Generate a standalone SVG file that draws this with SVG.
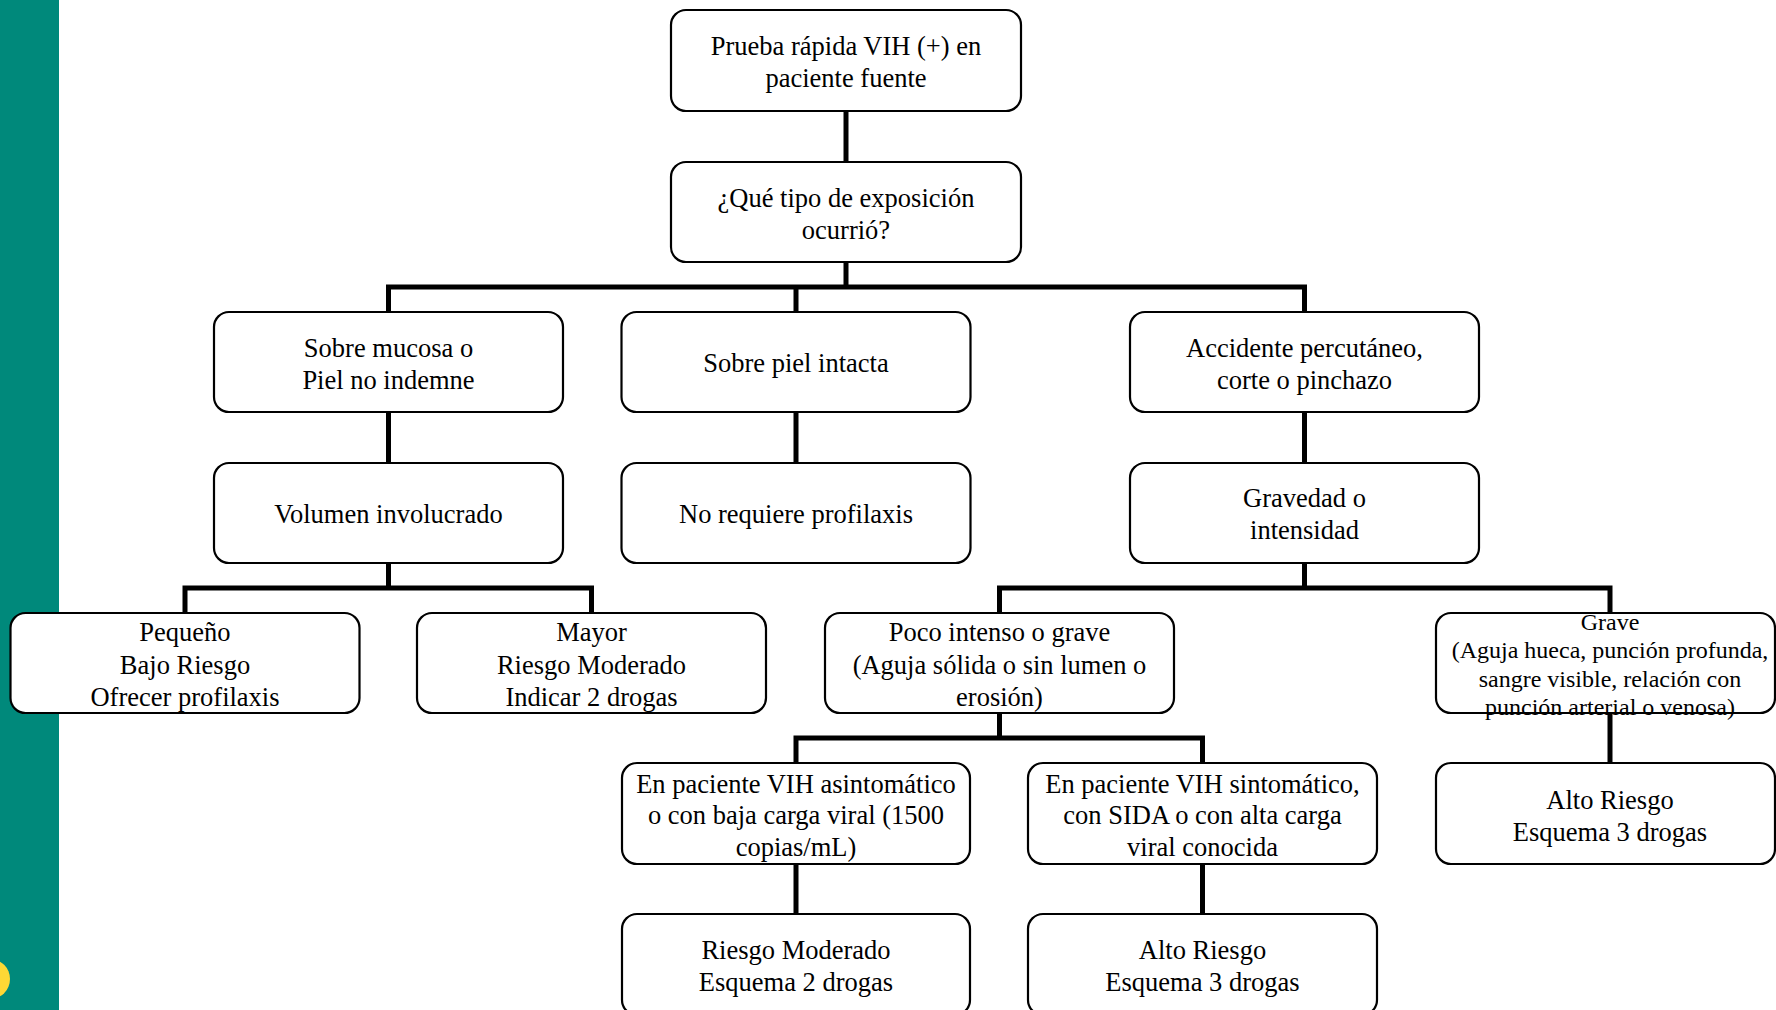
<svg xmlns="http://www.w3.org/2000/svg" width="1776" height="1010" viewBox="0 0 1776 1010">
<style>
.box{fill:#fff;stroke:#000;stroke-width:2.2}
.t{font-family:"Liberation Serif","Times New Roman",serif;font-size:26.5px;fill:#000;text-anchor:middle}
.s{font-family:"Liberation Serif","Times New Roman",serif;font-size:24px;fill:#000;text-anchor:middle}
.c{fill:none;stroke:#000;stroke-width:5;stroke-linecap:butt;stroke-linejoin:miter}
</style>
<rect x="0" y="0" width="1776" height="1010" fill="#fff"/>
<rect x="0" y="0" width="59" height="1010" fill="#00897B"/>
<circle cx="-10" cy="979" r="20" fill="#FDD835"/>
<g id="connectors">
<path class="c" d="M846 111V162"/>
<path class="c" d="M846 262V287M388.5 312V287H1304.5V312M796 287V312"/>
<path class="c" d="M388.5 412V463M796 412V463M1304.5 412V463"/>
<path class="c" d="M388.5 563V588M185 613V588H591.5V613"/>
<path class="c" d="M1304.5 563V588M999.5 613V588H1610V613"/>
<path class="c" d="M999.5 713V738M796 763V738H1202.5V763"/>
<path class="c" d="M1610 713V763"/>
<path class="c" d="M796 864V914M1202.5 864V914"/>
</g>
<g id="n1"><rect class="box" x="671" y="10" width="350" height="101" rx="15"/><text class="t" x="846" y="55">Prueba rápida VIH (+) en</text><text class="t" x="846" y="87">paciente fuente</text></g>
<g id="n2"><rect class="box" x="671" y="162" width="350" height="100" rx="15"/><text class="t" x="846" y="207">¿Qué tipo de exposición</text><text class="t" x="846" y="239">ocurrió?</text></g>
<g id="n3"><rect class="box" x="214" y="312" width="349" height="100" rx="15"/><text class="t" x="388.5" y="357">Sobre mucosa o</text><text class="t" x="388.5" y="389">Piel no indemne</text></g>
<g id="n4"><rect class="box" x="621.5" y="312" width="349" height="100" rx="15"/><text class="t" x="796" y="372">Sobre piel intacta</text></g>
<g id="n5"><rect class="box" x="1130" y="312" width="349" height="100" rx="15"/><text class="t" x="1304.5" y="357">Accidente percutáneo,</text><text class="t" x="1304.5" y="389">corte o pinchazo</text></g>
<g id="n6"><rect class="box" x="214" y="463" width="349" height="100" rx="15"/><text class="t" x="388.5" y="523">Volumen involucrado</text></g>
<g id="n7"><rect class="box" x="621.5" y="463" width="349" height="100" rx="15"/><text class="t" x="796" y="523">No requiere profilaxis</text></g>
<g id="n8"><rect class="box" x="1130" y="463" width="349" height="100" rx="15"/><text class="t" x="1304.5" y="507">Gravedad o</text><text class="t" x="1304.5" y="539">intensidad</text></g>
<g id="n9"><rect class="box" x="10.5" y="613" width="349" height="100" rx="15"/><text class="t" x="185" y="641">Pequeño</text><text class="t" x="185" y="674">Bajo Riesgo</text><text class="t" x="185" y="706">Ofrecer profilaxis</text></g>
<g id="n10"><rect class="box" x="417" y="613" width="349" height="100" rx="15"/><text class="t" x="591.5" y="641">Mayor</text><text class="t" x="591.5" y="674">Riesgo Moderado</text><text class="t" x="591.5" y="706">Indicar 2 drogas</text></g>
<g id="n11"><rect class="box" x="825" y="613" width="349" height="100" rx="15"/><text class="t" x="999.5" y="641">Poco intenso o grave</text><text class="t" x="999.5" y="674">(Aguja sólida o sin lumen o</text><text class="t" x="999.5" y="706">erosión)</text></g>
<g id="n12"><rect class="box" x="1436" y="613" width="339" height="100" rx="15"/><text class="s" x="1610" y="630">Grave</text><text class="s" x="1610" y="658">(Aguja hueca, punción profunda,</text><text class="s" x="1610" y="687">sangre visible, relación con</text><text class="s" x="1610" y="715">punción arterial o venosa)</text></g>
<g id="n13"><rect class="box" x="622" y="763" width="348" height="101" rx="15"/><text class="t" x="796" y="793">En paciente VIH asintomático</text><text class="t" x="796" y="824">o con baja carga viral (1500</text><text class="t" x="796" y="856">copias/mL)</text></g>
<g id="n14"><rect class="box" x="1028" y="763" width="349" height="101" rx="15"/><text class="t" x="1202.5" y="793">En paciente VIH sintomático,</text><text class="t" x="1202.5" y="824">con SIDA o con alta carga</text><text class="t" x="1202.5" y="856">viral conocida</text></g>
<g id="n15"><rect class="box" x="1436" y="763" width="339" height="101" rx="15"/><text class="t" x="1610" y="809">Alto Riesgo</text><text class="t" x="1610" y="841">Esquema 3 drogas</text></g>
<g id="n16"><rect class="box" x="622" y="914" width="348" height="101" rx="15"/><text class="t" x="796" y="959">Riesgo Moderado</text><text class="t" x="796" y="991">Esquema 2 drogas</text></g>
<g id="n17"><rect class="box" x="1028" y="914" width="349" height="101" rx="15"/><text class="t" x="1202.5" y="959">Alto Riesgo</text><text class="t" x="1202.5" y="991">Esquema 3 drogas</text></g>
</svg>
